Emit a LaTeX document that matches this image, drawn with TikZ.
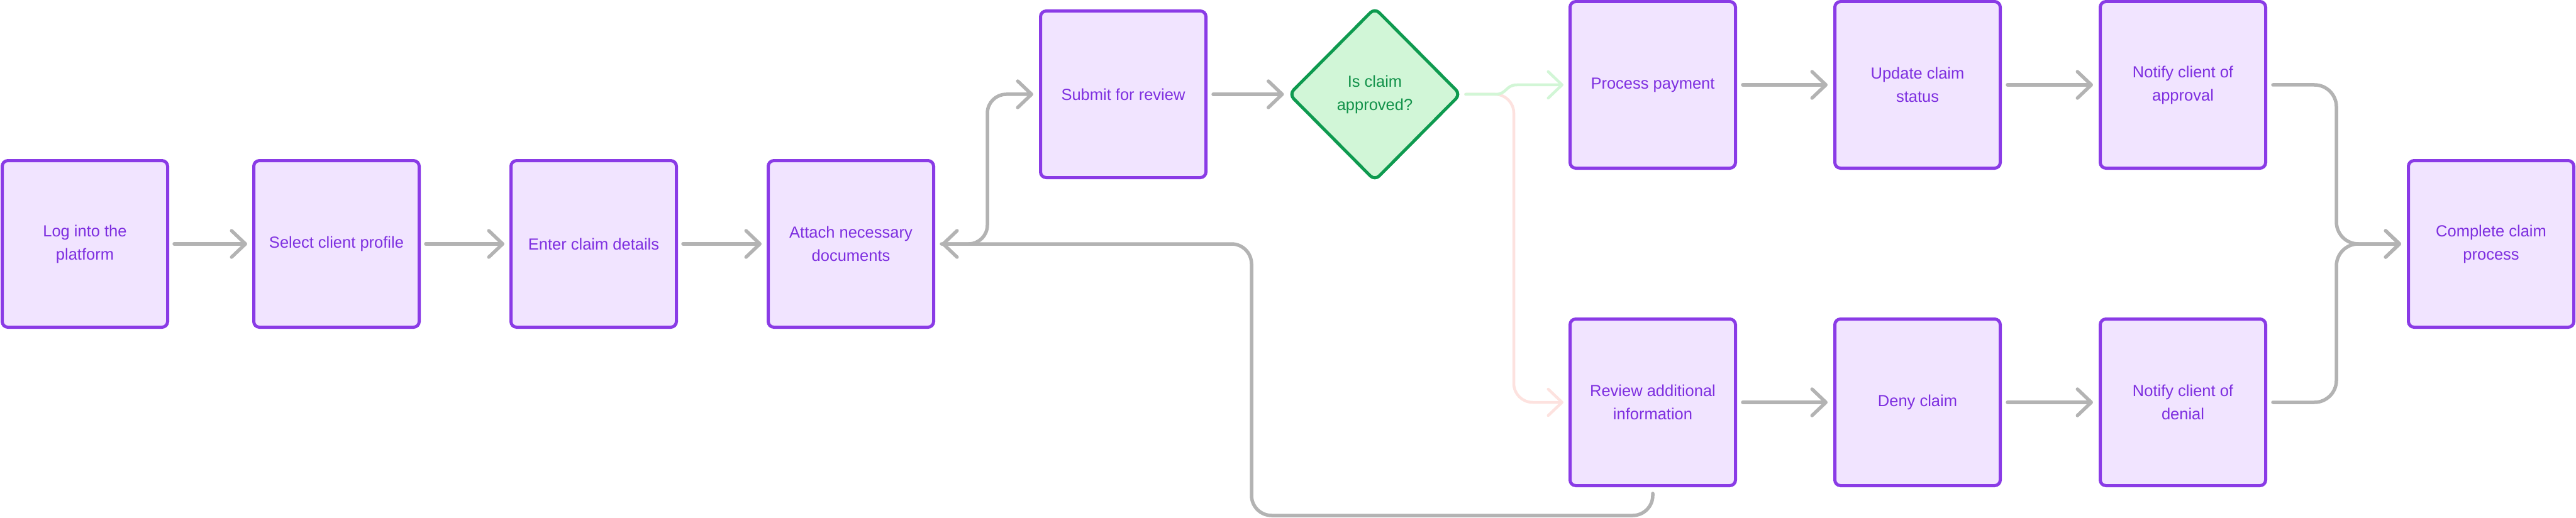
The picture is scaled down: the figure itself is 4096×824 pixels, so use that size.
\documentclass[tikz,border=0pt]{standalone}
\usepackage{fontspec}
\setmainfont{Liberation Sans}
\usetikzlibrary{arrows.meta,shapes.geometric,calc}
\definecolor{boxborder}{HTML}{8A3BE6}
\definecolor{boxfill}{HTML}{F1E4FF}
\definecolor{boxtext}{HTML}{7E2FE0}
\definecolor{diafill}{HTML}{D1F6D7}
\definecolor{diaborder}{HTML}{0E9A4F}
\definecolor{diatext}{HTML}{12924A}
\definecolor{edgegray}{HTML}{B3B3B3}
\definecolor{edgepink}{HTML}{FDE2DF}
\definecolor{edgegreen}{HTML}{D2F6D6}
\tikzset{
  stepbox/.style={draw=boxborder, fill=boxfill, line width=5pt, rounded corners=9pt,
    minimum width=263pt, minimum height=265pt, text=boxtext, align=center,
    font=\fontsize{25.5}{37}\selectfont, inner sep=0pt},
  decision/.style={diamond, aspect=1, draw=diaborder, fill=diafill, line width=5pt,
    rounded corners=10pt, minimum width=274pt, minimum height=276pt, text=diatext,
    align=center, font=\fontsize{25.5}{37}\selectfont, inner sep=0pt},
  arr/.style={draw=edgegray, line width=5.5pt, line cap=round, line join=round,
    -{Straight Barb[length=22pt,width=42pt,round]}},
  arrpink/.style={arr, draw=edgepink, line width=4.5pt},
  arrgreen/.style={arr, draw=edgegreen, line width=4.5pt},
}
\begin{document}
\begin{tikzpicture}[x=1pt,y=-1pt]
\useasboundingbox (0,0) rectangle (4096,824);
% main row
\node[stepbox] (login)   at (135,388)  {Log into the\\platform};
\node[stepbox] (select)  at (535,388)  {Select client profile};
\node[stepbox] (enter)   at (944,388)  {Enter claim details};
\node[stepbox] (attach)  at (1353,388) {Attach necessary\\documents};
\node[stepbox] (submit)  at (1786,150) {Submit for review};
\node[decision] (dia)    at (2186,150) {Is claim\\approved?};
% approval row
\node[stepbox] (pay)     at (2628,135) {Process payment};
\node[stepbox] (update)  at (3049,135) {Update claim\\status};
\node[stepbox] (notifya) at (3471,135) {Notify client of\\approval};
% denial row
\node[stepbox] (review)  at (2628,640) {Review additional\\information};
\node[stepbox] (deny)    at (3049,640) {Deny claim};
\node[stepbox] (notifyd) at (3471,640) {Notify client of\\denial};
% end
\node[stepbox] (complete) at (3961,388) {Complete claim\\process};

% straight connectors
\draw[arr] ($(login.east)+(8,0)$)   -- ($(select.west)+(-8,0)$);
\draw[arr] ($(select.east)+(8,0)$)  -- ($(enter.west)+(-8,0)$);
\draw[arr] ($(enter.east)+(8,0)$)   -- ($(attach.west)+(-8,0)$);
\draw[arr] ($(submit.east)+(9,0)$)  -- ($(dia.west)+(-5,0)$);
\draw[arr] ($(pay.east)+(9,0)$)     -- ($(update.west)+(-9,0)$);
\draw[arr] ($(update.east)+(9,0)$)  -- ($(notifya.west)+(-9,0)$);
\draw[arr] ($(review.east)+(9,0)$)  -- ($(deny.west)+(-9,0)$);
\draw[arr] ($(deny.east)+(9,0)$)    -- ($(notifyd.west)+(-9,0)$);

% attach -> submit
\coordinate (j1) at (1570,388);
\draw[arr, rounded corners=30pt] ($(attach.east)+(10,0)$) -- (j1) |- ($(submit.west)+(-9,0)$);

% loop back review -> attach
\coordinate (lb1) at (2628,820);
\coordinate (lb2) at (1990,820);
\coordinate (lb3) at (1990,388);
\draw[arr, rounded corners=32pt] ($(review.south)+(0,10)$) -- (lb1) -- (lb2) -- (lb3) -- ($(attach.east)+(10,0)$);

% decision branches
\coordinate (p1) at (2407,150);
\coordinate (p2) at (2407,640);
\draw[arrpink, rounded corners=30pt] ($(dia.east)+(5,0)$) -- (p1) -- (p2) -- ($(review.west)+(-8,0)$);
\coordinate (g1) at (2378,150);
\coordinate (g2) at (2412,135);
\draw[arrgreen] ($(dia.east)+(5,0)$) -- (g1) .. controls (2396,150) and (2394,135) .. (g2) -- ($(pay.west)+(-8,0)$);

% merge into complete
\coordinate (m1) at (3715,135);
\coordinate (m2) at (3715,640);
\coordinate (m3) at (3715,388);
\draw[arr, rounded corners=35pt] ($(notifya.east)+(9,0)$) -- (m1) -- (m3) -- ($(complete.west)+(-9,0)$);
\draw[arr, rounded corners=35pt] ($(notifyd.east)+(9,0)$) -- (m2) -- (m3) -- ($(complete.west)+(-9,0)$);
\end{tikzpicture}
\end{document}
